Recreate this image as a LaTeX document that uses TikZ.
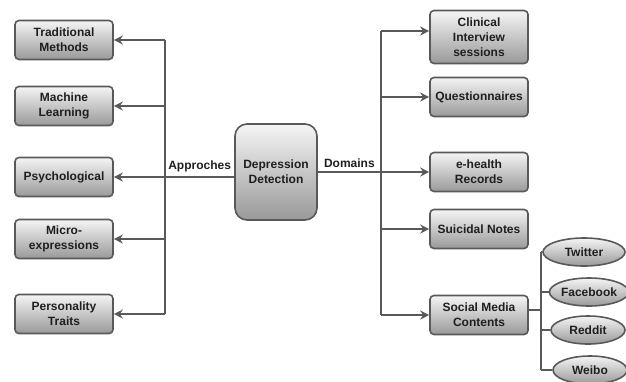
\documentclass[tikz,border=0pt]{standalone}
\usepackage{fontspec}
\setmainfont{Liberation Sans}
\usetikzlibrary{arrows.meta,shapes.geometric}
\definecolor{boxtop}{rgb}{0.96,0.96,0.96}
\definecolor{boxbot}{rgb}{0.60,0.60,0.60}
\definecolor{edgegray}{rgb}{0.35,0.35,0.35}
\definecolor{inkgray}{rgb}{0.12,0.12,0.12}

\begin{document}
\begin{tikzpicture}[
	x=1pt, y=-1pt,
	font=\fontsize{12}{15}\selectfont\bfseries,
	text=inkgray
]
\tikzset{
    topic/.style = {draw=edgegray, line width=1.6pt, rounded corners=4pt, align=center,
        top color=boxtop, bottom color=boxbot, minimum width=98pt, minimum height=39pt, inner sep=1pt},
    hub/.style = {topic, rounded corners=12pt, minimum width=82pt, minimum height=96pt},
    site/.style = {ellipse, draw=edgegray, line width=1.6pt, top color=boxtop, bottom color=boxbot,
        minimum height=28pt, inner sep=0pt},
    wire/.style = {draw=edgegray, line width=2pt},
    tip/.style = {wire, -{Stealth[length=9pt,width=9pt,inset=3pt]}}
}
\useasboundingbox (0,0) rectangle (626,381);

% centre
\node (dd) [hub] at (276,172) {Depression\\Detection};

% approaches
\node (trad) [topic] at (64,40) {Traditional\\Methods};
\node (mach) [topic] at (64,106) {Machine\\Learning};
\node (psy) [topic] at (64,177) {Psychological};
\node (micro) [topic] at (64,239) {Micro-\\expressions};
\node (pers) [topic] at (64,314) {Personality\\Traits};

% domains
\node (clin) [topic, minimum height=53pt] at (479,37) {Clinical\\Interview\\sessions};
\node (quest) [topic] at (479,97) {Questionnaires};
\node (ehr) [topic] at (479,172) {e-health\\Records};
\node (sui) [topic] at (479,229) {Suicidal Notes};
\node (soc) [topic] at (479,315) {Social Media\\Contents};
\coordinate (clinin) at ([yshift=6pt]clin.west);
\coordinate (socout) at ([yshift=5pt]soc.east);

% social media sites
\node (twit) [site, minimum width=82pt] at (584,252) {Twitter};
\node (face) [site, minimum width=76pt] at (589,292) {Facebook};
\node (red) [site, minimum width=74pt] at (588,330) {Reddit};
\node (wei) [site, minimum width=74pt] at (590,370) {Weibo};

\coordinate (lbus) at (165,0);
\coordinate (rbus) at (381,0);
\coordinate (tbus) at (541,0);

% left side
\draw[wire] (lbus |- trad) -- (lbus |- pers);
\foreach \n in {trad,mach,micro,pers}
    \draw[tip] (lbus |- \n) -- (\n.east);
\draw[tip] (dd.west |- psy) -- (psy.east);
\path (lbus |- psy) -- node[above=1pt] {Approches} (dd.west |- psy);

% right side
\draw[wire] (rbus |- clinin) -- (rbus |- soc);
\draw[tip] (rbus |- clinin) -- (clinin);
\foreach \n in {quest,sui,soc}
    \draw[tip] (rbus |- \n) -- (\n.west);
\draw[tip] (dd.east |- ehr) -- (ehr.west);
\path (dd.east |- ehr) -- node[above=1pt] {Domains} (rbus |- ehr);

% social media tree
\draw[wire] (socout) -- (tbus |- socout);
\draw[wire] (tbus |- twit) -- (tbus |- wei);
\foreach \n in {twit,face,red,wei}
    \draw[wire] (tbus |- \n) -- (\n.west);
\end{tikzpicture}
\end{document}
